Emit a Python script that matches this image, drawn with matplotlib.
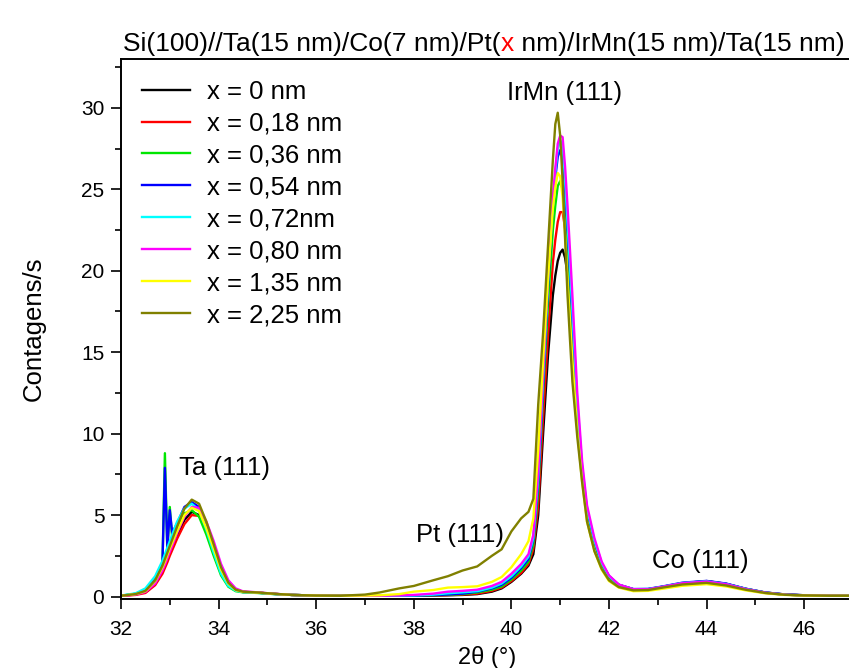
import matplotlib
matplotlib.use("Agg")
import matplotlib.pyplot as plt
from matplotlib.ticker import MultipleLocator

plt.rcParams['font.family'] = ['Liberation Sans', 'DejaVu Sans']

# 2theta grid (deg)
two_theta = [32.0, 32.3, 32.5, 32.7, 32.85, 32.9, 32.95, 33.0, 33.05, 33.15,
             33.3, 33.45, 33.6, 33.75, 33.9, 34.05, 34.2, 34.35, 34.5, 34.8,
             35.1, 35.5, 36.0, 36.5, 37.0, 37.3, 37.7, 38.0, 38.4, 38.7,
             39.0, 39.3, 39.6, 39.8, 40.0, 40.2, 40.35, 40.45, 40.55, 40.65,
             40.75, 40.85, 40.9, 40.95, 41.0, 41.05, 41.1, 41.15, 41.2, 41.25,
             41.35, 41.45, 41.55, 41.7, 41.85, 42.0, 42.2, 42.5, 42.8, 43.1,
             43.5, 44.0, 44.4, 44.8, 45.2, 45.6, 46.0, 46.5, 47.0]

labels = ["x = 0 nm", "x = 0,18 nm", "x = 0,36 nm", "x = 0,54 nm",
          "x = 0,72nm", "x = 0,80 nm", "x = 1,35 nm", "x = 2,25 nm"]
colors = ["#000000", "#ff0000", "#00e600", "#0000ff",
          "#00ffff", "#ff00ff", "#ffff00", "#808000"]

# counts/s for each Pt thickness
c_0 = [0.05, 0.13, 0.3, 0.85, 1.65, 2.0, 2.35, 2.7, 3.05, 3.75, 4.7, 5.2, 5.0, 4.05, 2.85, 1.6, 0.78, 0.4, 0.28, 0.24, 0.17, 0.1, 0.06, 0.05,
       0.05, 0.05, 0.05, 0.05, 0.06, 0.08, 0.1, 0.15, 0.3, 0.5, 0.9, 1.4, 1.9, 2.6, 5.0, 10.0,
       14.8, 18.5, 19.7, 20.6, 21.1, 21.3, 20.8, 19.8, 18.1, 16.0,
       11.0, 7.6, 5.2, 3.3, 2.0, 1.25, 0.72, 0.45, 0.45, 0.6, 0.82, 0.95, 0.78, 0.48, 0.25, 0.13, 0.08, 0.06, 0.05]
c_018 = [0.04, 0.1, 0.22, 0.7, 1.4, 1.75, 2.1, 2.5, 2.85, 3.55, 4.45, 5.0, 4.95, 4.15, 2.95, 1.7, 0.85, 0.42, 0.29, 0.24, 0.17, 0.1, 0.06, 0.05,
         0.05, 0.05, 0.05, 0.05, 0.07, 0.09, 0.12, 0.18, 0.35, 0.55, 0.95, 1.45, 2.0, 2.9, 5.6, 11.0,
         16.0, 20.5, 21.9, 23.0, 23.6, 23.6, 22.6, 21.0, 18.9, 16.5,
         11.2, 7.6, 5.2, 3.3, 2.0, 1.2, 0.7, 0.43, 0.43, 0.58, 0.8, 0.9, 0.74, 0.45, 0.23, 0.12, 0.07, 0.06, 0.05]
c_036 = [0.05, 0.17, 0.4, 1.1, 2.0, 8.8, 2.8, 5.5, 3.5, 4.3, 5.1, 5.3, 4.9, 3.8, 2.5, 1.3, 0.6, 0.33, 0.26, 0.22, 0.16, 0.1, 0.06, 0.05,
         0.05, 0.05, 0.05, 0.06, 0.08, 0.11, 0.15, 0.25, 0.42, 0.62, 1.05, 1.6, 2.15, 3.2, 6.5, 12.5,
         18.0, 22.5, 24.0, 25.2, 25.5, 25.0, 23.5, 21.5, 19.0, 16.5,
         11.2, 7.6, 5.2, 3.3, 2.0, 1.2, 0.7, 0.43, 0.45, 0.6, 0.82, 0.92, 0.76, 0.46, 0.24, 0.12, 0.07, 0.06, 0.05]
c_054 = [0.05, 0.17, 0.4, 1.1, 2.1, 7.9, 3.0, 5.3, 3.9, 4.5, 5.5, 5.8, 5.5, 4.3, 3.0, 1.65, 0.78, 0.4, 0.28, 0.24, 0.17, 0.1, 0.06, 0.05,
         0.05, 0.05, 0.05, 0.06, 0.09, 0.13, 0.18, 0.3, 0.5, 0.72, 1.15, 1.75, 2.3, 3.5, 7.0, 13.0,
         19.0, 24.0, 25.7, 27.0, 27.4, 27.0, 25.0, 22.5, 19.8, 17.0,
         11.5, 7.8, 5.3, 3.4, 2.05, 1.25, 0.72, 0.46, 0.47, 0.62, 0.85, 0.96, 0.8, 0.48, 0.25, 0.13, 0.08, 0.06, 0.05]
c_072 = [0.06, 0.2, 0.5, 1.25, 2.2, 2.6, 3.0, 3.4, 3.8, 4.6, 5.4, 5.7, 5.3, 4.1, 2.7, 1.4, 0.65, 0.36, 0.27, 0.23, 0.16, 0.1, 0.06, 0.05,
         0.05, 0.05, 0.06, 0.07, 0.12, 0.2, 0.26, 0.33, 0.55, 0.8, 1.25, 1.85, 2.45, 3.6, 7.3, 13.4,
         19.3, 24.3, 26.0, 27.5, 28.0, 27.7, 25.6, 23.0, 20.3, 17.5,
         12.0, 8.0, 5.4, 3.45, 2.05, 1.25, 0.72, 0.45, 0.46, 0.6, 0.83, 0.93, 0.77, 0.47, 0.24, 0.12, 0.07, 0.06, 0.05]
c_080 = [0.04, 0.12, 0.28, 0.8, 1.6, 1.95, 2.35, 2.75, 3.1, 3.9, 4.9, 5.5, 5.45, 4.6, 3.4, 2.0, 1.0, 0.5, 0.32, 0.26, 0.18, 0.1, 0.06, 0.05,
         0.05, 0.05, 0.07, 0.1, 0.18, 0.3, 0.35, 0.42, 0.65, 0.9, 1.4, 2.0, 2.6, 3.8, 7.6, 13.7,
         19.5, 24.5, 26.3, 27.8, 28.3, 28.2, 26.4, 24.0, 21.3, 18.5,
         12.5, 8.3, 5.6, 3.6, 2.15, 1.3, 0.74, 0.45, 0.45, 0.6, 0.82, 0.92, 0.76, 0.46, 0.24, 0.12, 0.07, 0.06, 0.05]
c_135 = [0.05, 0.15, 0.33, 0.95, 1.8, 2.15, 2.55, 2.95, 3.3, 4.0, 5.0, 5.45, 5.25, 4.2, 2.95, 1.65, 0.8, 0.4, 0.28, 0.24, 0.17, 0.1, 0.06, 0.05,
         0.06, 0.08, 0.15, 0.3, 0.4, 0.55, 0.58, 0.63, 0.9, 1.2, 1.8, 2.6, 3.4, 4.8, 9.0, 14.5,
         19.5, 23.8, 25.1, 26.0, 25.8, 24.5, 22.3, 19.5, 17.0, 14.5,
         10.2, 7.0, 4.6, 2.8, 1.65, 0.95, 0.55, 0.33, 0.35, 0.48, 0.66, 0.76, 0.62, 0.38, 0.2, 0.1, 0.06, 0.05, 0.05]
c_225 = [0.05, 0.15, 0.35, 1.0, 1.9, 2.3, 2.7, 3.1, 3.5, 4.3, 5.4, 5.95, 5.7, 4.6, 3.2, 1.8, 0.85, 0.42, 0.3, 0.25, 0.18, 0.1, 0.06, 0.05,
         0.12, 0.25, 0.5, 0.65, 1.0, 1.25, 1.6, 1.85, 2.5, 2.9, 4.0, 4.8, 5.2, 6.0, 11.8, 16.2,
         21.5, 26.8, 29.0, 29.7, 28.3, 25.5, 22.0, 18.5, 15.8, 13.2,
         9.8, 7.0, 4.6, 2.8, 1.7, 1.0, 0.58, 0.38, 0.4, 0.55, 0.74, 0.84, 0.68, 0.42, 0.22, 0.11, 0.07, 0.05, 0.05]

series = [c_0, c_018, c_036, c_054, c_072, c_080, c_135, c_225]

fig = plt.figure(figsize=(8.49, 6.68), dpi=100)
ax = fig.add_axes([0.1425, 0.1033, 0.8622, 0.8084])

for y, c, lab in zip(series, colors, labels):
    ax.plot(two_theta, y, color=c, lw=1.7, label=lab)

ax.set_xlim(32, 47)
ax.set_ylim(-0.15, 33)
ax.xaxis.set_major_locator(MultipleLocator(2))
ax.xaxis.set_minor_locator(MultipleLocator(1))
ax.yaxis.set_major_locator(MultipleLocator(5))
ax.yaxis.set_minor_locator(MultipleLocator(2.5))
ax.tick_params(which="major", direction="out", length=7, width=1.2, labelsize=15, pad=5)
ax.tick_params(axis="x", which="major", pad=8)
ax.tick_params(which="minor", direction="out", length=4, width=1.2)
for s in ax.spines.values():
    s.set_linewidth(1.4)

ax.set_ylabel("Contagens/s", fontsize=18.5, labelpad=25)
ax.set_xlabel("2θ (°)", fontsize=17, labelpad=5)

ax.text(41.09, 30.9, "IrMn (111)", fontsize=18.5, ha="center", va="center")
ax.text(34.13, 7.9, "Ta (111)", fontsize=18.5, ha="center", va="center")
ax.text(38.95, 3.8, "Pt (111)", fontsize=18.5, ha="center", va="center")
ax.text(43.88, 2.2, "Co (111)", fontsize=18.5, ha="center", va="center")

ax.legend(loc="upper left", frameon=False, fontsize=18.5, handlelength=1.9,
          handletextpad=0.63, labelspacing=0.31, borderaxespad=0.4)

# title with red x
t1 = fig.text(0.145, 0.9237, "Si(100)//Ta(15 nm)/Co(7 nm)/Pt(", fontsize=19, va="baseline")
t2 = ax.annotate("x", xy=(1, 0), xycoords=t1, va="bottom", ha="left", fontsize=19, color="red")
ax.annotate(" nm)/IrMn(15 nm)/Ta(15 nm)", xy=(1, 0), xycoords=t2, va="bottom", ha="left", fontsize=19)

fig.savefig("out.png", dpi=100)
